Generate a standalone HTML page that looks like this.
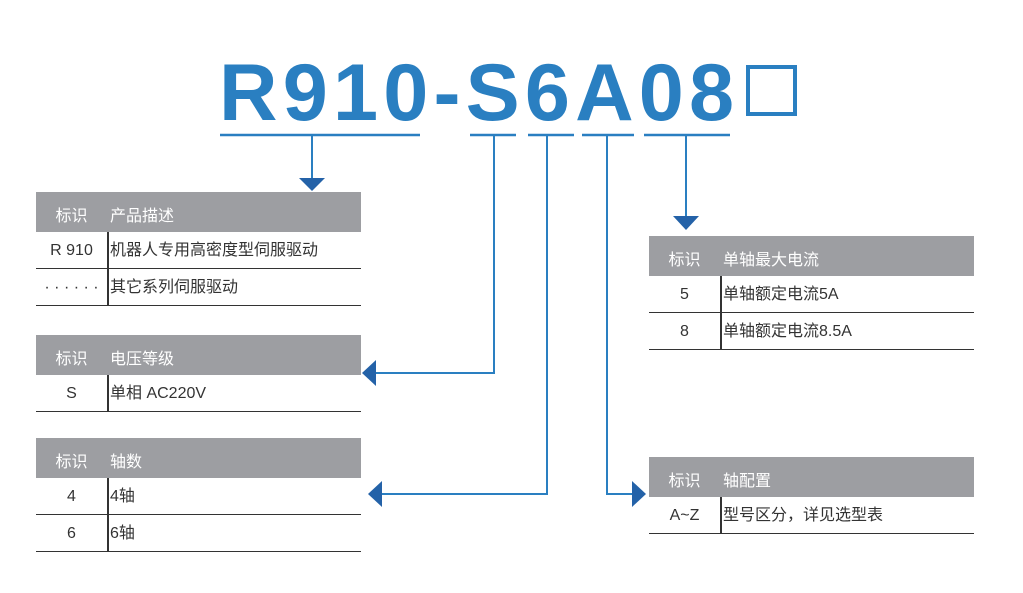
<!DOCTYPE html>
<html><head><meta charset="utf-8"><style>
*{margin:0;padding:0;box-sizing:border-box}
body{width:1023px;height:593px;background:#fff;position:relative;overflow:hidden;font-family:"Liberation Sans","Noto Sans CJK SC",sans-serif}
.title{position:absolute;left:219px;top:48px;font-size:81px;font-weight:bold;color:#2a7fc1;letter-spacing:5.2px;line-height:90px;white-space:nowrap}
.box{position:absolute;left:746px;top:65px;width:51px;height:51px;border:4px solid #2a7fc1}
.tb{position:absolute;width:325px}
.hd{background:#9d9ea2;color:#fff;font-size:16px;height:40px;position:relative}
.hd span,.r span{position:absolute;line-height:20px;height:20px}
.hd span{top:15px}
.r{position:relative;height:37px;border-bottom:1.5px solid #333;font-size:16px;color:#333}
.r span{top:9px}
.c1{width:71px;text-align:center;left:0}
.r .c2{left:74px}
.hd .c2{left:74px}
.dv{position:absolute;left:71px;top:0;bottom:-1px;width:1.5px;background:#333}
</style></head><body>
<div class="title">R910-S6A08</div>
<div class="box"></div>
<svg width="1023" height="593" style="position:absolute;left:0;top:0">
<g stroke="#2a7fc1" stroke-width="2.5" fill="none">
<line x1="220" y1="135" x2="420" y2="135"/>
<line x1="470" y1="135" x2="516" y2="135"/>
<line x1="528" y1="135" x2="574" y2="135"/>
<line x1="582" y1="135" x2="634" y2="135"/>
<line x1="644" y1="135" x2="730" y2="135"/>
</g>
<g stroke="#2a7fc1" stroke-width="2" fill="none">
<polyline points="312,135 312,180"/>
<polyline points="494,135 494,373 374,373"/>
<polyline points="547,135 547,494 380,494"/>
<polyline points="607,135 607,494 634,494"/>
<polyline points="686,135 686,218"/>
</g>
<g fill="#2462a8">
<polygon points="299,178 325,178 312,191"/>
<polygon points="673,216 699,216 686,230"/>
<polygon points="362,373 376,360 376,386"/>
<polygon points="368,494 382,481 382,507"/>
<polygon points="646,494 632,481 632,507"/>
</g>
</svg>
<div class="tb" style="left:36px;top:192px">
<div class="hd"><span class="c1">标识</span><span class="c2">产品描述</span></div>
<div class="r"><div class="dv"></div><span class="c1">R 910</span><span class="c2">机器人专用高密度型伺服驱动</span></div>
<div class="r"><div class="dv"></div><span class="c1">· · · · · ·</span><span class="c2">其它系列伺服驱动</span></div>
</div>
<div class="tb" style="left:36px;top:335px">
<div class="hd"><span class="c1">标识</span><span class="c2">电压等级</span></div>
<div class="r"><div class="dv"></div><span class="c1">S</span><span class="c2">单相 AC220V</span></div>
</div>
<div class="tb" style="left:36px;top:438px">
<div class="hd"><span class="c1">标识</span><span class="c2">轴数</span></div>
<div class="r"><div class="dv"></div><span class="c1">4</span><span class="c2">4轴</span></div>
<div class="r"><div class="dv"></div><span class="c1">6</span><span class="c2">6轴</span></div>
</div>
<div class="tb" style="left:649px;top:236px">
<div class="hd"><span class="c1">标识</span><span class="c2">单轴最大电流</span></div>
<div class="r"><div class="dv"></div><span class="c1">5</span><span class="c2">单轴额定电流5A</span></div>
<div class="r"><div class="dv"></div><span class="c1">8</span><span class="c2">单轴额定电流8.5A</span></div>
</div>
<div class="tb" style="left:649px;top:457px">
<div class="hd"><span class="c1">标识</span><span class="c2">轴配置</span></div>
<div class="r"><div class="dv"></div><span class="c1">A~Z</span><span class="c2">型号区分，详见选型表</span></div>
</div>
</body></html>
